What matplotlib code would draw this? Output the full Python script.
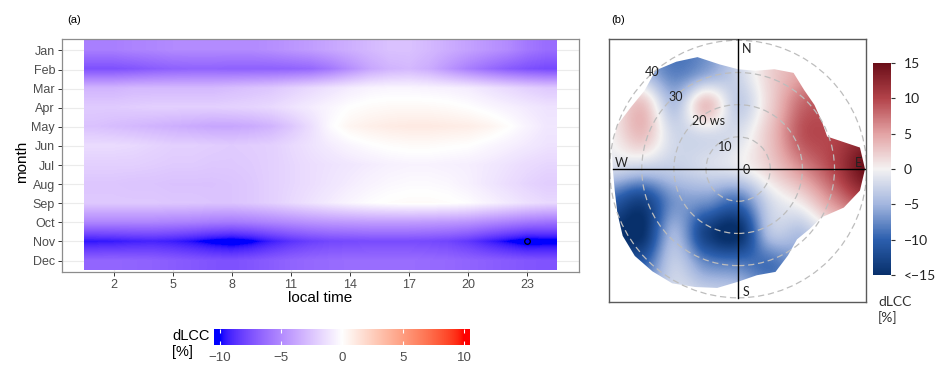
import numpy as np
import matplotlib
matplotlib.use("Agg")
import matplotlib.pyplot as plt
from matplotlib.colors import ListedColormap, LinearSegmentedColormap, Normalize
from matplotlib.patches import Polygon, Circle
from matplotlib.cm import ScalarMappable

# ---- data: panel (a), dLCC [%] by month x local hour ----
months = ["Jan", "Feb", "Mar", "Apr", "May", "Jun",
          "Jul", "Aug", "Sep", "Oct", "Nov", "Dec"]
hours = np.arange(1, 25)
hour_ticks = [2, 5, 8, 11, 14, 17, 20, 23]

dlcc_jan = [-5.5, -5.5, -5.3, -5.2, -5.0, -5.0, -5.0, -5.0, -5.0, -4.8, -4.5, -4.2,
            -3.8, -3.4, -3.0, -2.6, -2.6, -3.0, -3.5, -4.0, -4.5, -5.0, -5.8, -6.3]
dlcc_feb = [-7.5, -7.5, -7.3, -7.0, -6.8, -6.7, -6.7, -6.8, -6.8, -6.8, -6.7, -6.5,
            -5.8, -4.8, -3.8, -3.2, -3.0, -3.5, -4.5, -5.5, -6.3, -7.0, -7.5, -7.8]
dlcc_mar = [-3.2, -3.2, -3.0, -3.0, -3.0, -3.0, -3.0, -2.8, -2.6, -2.4, -2.0, -1.6,
            -1.2, -0.8, -0.5, -0.4, -0.4, -0.5, -0.6, -0.8, -1.2, -1.6, -2.0, -2.3]
dlcc_apr = [-2.2, -2.2, -2.1, -2.0, -2.0, -2.0, -2.0, -1.9, -1.8, -1.6, -1.2, -0.8,
            -0.4, 0.0, 0.2, 0.3, 0.3, 0.3, 0.2, 0.0, -0.3, -0.6, -0.9, -1.2]
dlcc_may = [-2.6, -2.8, -3.0, -3.2, -3.4, -3.6, -3.8, -3.8, -3.6, -3.2, -2.4, -1.4,
            -0.2, 0.5, 0.8, 1.0, 1.1, 1.1, 1.0, 0.9, 0.6, 0.1, -0.5, -1.0]
dlcc_jun = [-1.5, -1.5, -1.6, -1.8, -2.0, -2.0, -2.1, -2.2, -2.1, -2.0, -1.6, -1.2,
            -0.8, -0.4, -0.1, 0.1, 0.2, 0.2, 0.1, 0.0, -0.3, -0.6, -0.9, -1.2]
dlcc_jul = [-2.0, -2.0, -2.0, -2.1, -2.2, -2.2, -2.3, -2.3, -2.2, -2.0, -1.7, -1.4,
            -1.2, -1.0, -0.8, -0.6, -0.5, -0.5, -0.6, -0.7, -0.9, -1.2, -1.5, -1.7]
dlcc_aug = [-2.4, -2.4, -2.5, -2.5, -2.6, -2.6, -2.6, -2.5, -2.3, -2.0, -1.7, -1.4,
            -1.1, -0.8, -0.5, -0.3, -0.2, -0.2, -0.3, -0.6, -1.0, -1.4, -1.8, -2.1]
dlcc_sep = [-2.3, -2.3, -2.3, -2.3, -2.4, -2.4, -2.5, -2.5, -2.3, -2.0, -1.6, -1.2,
            -0.8, -0.4, -0.1, 0.1, 0.2, 0.2, 0.1, -0.1, -0.5, -0.9, -1.3, -1.6]
dlcc_oct = [-5.2, -5.2, -5.2, -5.2, -5.3, -5.4, -5.6, -5.7, -5.5, -5.2, -4.9, -4.6,
            -4.4, -4.3, -4.2, -4.2, -4.2, -4.3, -4.4, -4.6, -5.0, -5.4, -5.8, -6.0]
dlcc_nov = [-9.6, -9.5, -9.3, -9.2, -9.4, -9.8, -10.3, -10.6, -10.2, -9.4, -8.7, -8.2,
            -7.9, -7.8, -7.7, -7.7, -7.7, -7.8, -8.0, -8.5, -9.3, -10.0, -10.6, -10.4]
dlcc_dec = [-6.6, -6.6, -6.7, -6.8, -7.0, -7.2, -7.4, -7.5, -7.3, -7.0, -6.7, -6.5,
            -6.4, -6.3, -6.3, -6.3, -6.3, -6.4, -6.5, -6.7, -6.9, -7.1, -7.3, -7.4]

# marked cell (hour, month)
mark_hour = 23
mark_month = 11

# ---- data: panel (b), dLCC [%] on a u/v wind-speed grid (step 10) ----
grid_u = [-40, -30, -20, -10, 0, 10, 20, 30, 40]       # west -> east
grid_v = [40, 30, 20, 10, 0, -10, -20, -30, -40]       # north -> south
dlcc_v40 = [-6, -7, -9, -7, -3, 2, 5, 6, 6]
dlcc_v30 = [0, -4, -8, -6, -2.5, 2, 5, 8, 8]
dlcc_v20 = [0, 3, -4, 3, -3, 2, 8, 9, 9]
dlcc_v10 = [0, 3, -2, -2, -1.5, 3, 9, 10, 12]
dlcc_v0 = [-2, -3, -3, -2, -1, 2, 6, 10, 15]
dlcc_vm10 = [-10, -13, -7, -7, -9, -2, 1, 6, 10]
dlcc_vm20 = [-14, -15, -5, -13, -15, -4, -4, 0, 2]
dlcc_vm30 = [-10, -10, -3, -7, -8, -9, -6, -4, 0]
dlcc_vm40 = [-8, -6, -2, -2, -3, -6, -6, -4, 0]

# outer edge of the data (max wind speed per direction)
edge_deg = list(range(0, 360, 10))
edge_ws = [31, 31, 33, 34.5, 32, 31, 30, 29.5, 38.5, 39.5, 38.5, 35,
           30, 29, 28.5, 31, 34, 33.5, 35, 37.5, 39, 41, 41.5, 42,
           41.5, 40, 39, 39, 40, 40, 38.5, 38, 40, 38.5, 37, 33]

ring_ws = [10, 20, 30, 40]


# ---- colour maps ----
def srgb_to_lab(c):
    c = np.asarray(c, float)
    lin = np.where(c <= 0.04045, c / 12.92, ((c + 0.055) / 1.055) ** 2.4)
    M = np.array([[0.4124564, 0.3575761, 0.1804375],
                  [0.2126729, 0.7151522, 0.0721750],
                  [0.0193339, 0.1191920, 0.9503041]])
    xyz = M @ lin / np.array([0.95047, 1.0, 1.08883])
    d = 6 / 29
    f = np.where(xyz > d ** 3, np.cbrt(xyz), xyz / (3 * d * d) + 4 / 29)
    return np.array([116 * f[1] - 16, 500 * (f[0] - f[1]), 200 * (f[1] - f[2])])


def lab_to_srgb(lab):
    L, a, b = lab
    fy = (L + 16) / 116
    f = np.array([fy + a / 500, fy, fy - b / 200])
    d = 6 / 29
    t = np.where(f > d, f ** 3, 3 * d * d * (f - 4 / 29))
    xyz = t * np.array([0.95047, 1.0, 1.08883])
    Minv = np.array([[3.2404542, -1.5371385, -0.4985314],
                     [-0.9692660, 1.8760108, 0.0415560],
                     [0.0556434, -0.2040259, 1.0572252]])
    lin = np.clip(Minv @ xyz, 0, 1)
    s = np.where(lin <= 0.0031308, 12.92 * lin, 1.055 * lin ** (1 / 2.4) - 0.055)
    return np.clip(s, 0, 1)


lab_blue = srgb_to_lab([0, 0, 1])
lab_white = srgb_to_lab([1, 1, 1])
lab_red = srgb_to_lab([1, 0, 0])
cols = []
for v in np.linspace(-1, 1, 256):
    if v < 0:
        lab = lab_blue + (lab_white - lab_blue) * (v + 1)
    else:
        lab = lab_white + (lab_red - lab_white) * v
    cols.append(lab_to_srgb(lab))
cmap_a = ListedColormap(cols)
norm_a = Normalize(-10, 10)

cmap_b = LinearSegmentedColormap.from_list("dlcc_b", [
    (0.0, "#08306b"), (1 / 6, "#2c5fae"), (2 / 6, "#a3b6df"), (0.5, "#f4f2f2"),
    (4 / 6, "#e3a3a4"), (5 / 6, "#b3434a"), (1.0, "#6a0e18")])
norm_b = Normalize(-15, 15)

# ---- figure ----
fig = plt.figure(figsize=(9.4, 3.65), dpi=100)
W, H = 940, 365


def box(x0, y0, x1, y1):
    return [x0 / W, 1 - y1 / H, (x1 - x0) / W, (y1 - y0) / H]


font_a = "Liberation Sans"
font_b = "Lato"

# panel (a)
ax = fig.add_axes(box(62, 39, 579, 272))
grid = np.array([dlcc_jan, dlcc_feb, dlcc_mar, dlcc_apr, dlcc_may, dlcc_jun,
                 dlcc_jul, dlcc_aug, dlcc_sep, dlcc_oct, dlcc_nov, dlcc_dec])
ax.imshow(grid, cmap=cmap_a, norm=norm_a, aspect="auto",
          interpolation="bilinear", interpolation_stage="data",
          extent=(hours[0] - 0.5, hours[-1] + 0.5, len(months) + 0.5, 0.5), zorder=1)
ax.plot([mark_hour], [mark_month], "o", mfc="none", mec="black", ms=4, mew=0.9, zorder=3)
ax.set_xlim(-0.64, 25.64)
ax.set_ylim(12.6, 0.4)
ax.set_xticks(hour_ticks)
ax.set_yticks(np.arange(1, 13))
ax.set_yticklabels(months)
ax.grid(True, color="#ebebeb", lw=0.8)
ax.set_axisbelow(True)
for s in ax.spines.values():
    s.set_color("#8c8c8c")
    s.set_linewidth(0.9)
ax.tick_params(length=3, width=0.7, color="#333333", labelcolor="#4d4d4d",
               labelsize=9, pad=2)
for lab in ax.get_xticklabels() + ax.get_yticklabels():
    lab.set_family(font_a)
fig.text(320 / W, 1 - 298 / H, "local time", ha="center", va="center",
         fontsize=11, family=font_a)
fig.text(22 / W, 1 - 162 / H, "month", ha="center", va="center",
         rotation=90, fontsize=11, family=font_a)
fig.text(74 / W, 1 - 20 / H, "(a)", ha="center", va="center", fontsize=8, family=font_a)

# colour bar (a)
cax = fig.add_axes(box(214, 329, 470, 345))
bar = np.linspace(-10.5, 10.5, 400)[None, :]
cax.imshow(bar, cmap=cmap_a, norm=norm_a, aspect="auto",
           extent=(-10.5, 10.5, 0, 1))
cax.set_xlim(-10.5, 10.5)
cax.set_ylim(0, 1)
cax.set_yticks([])
cax.set_xticks([-10, -5, 0, 5, 10])
cax.set_xticklabels(["\u221210", "\u22125", "0", "5", "10"])
cax.tick_params(axis="x", direction="in", length=3, width=0.8, color="white",
                top=True, labelcolor="#4d4d4d", labelsize=9.5, pad=5)
for lab in cax.get_xticklabels():
    lab.set_family(font_a)
for s in cax.spines.values():
    s.set_visible(False)
fig.text(172 / W, 1 - 344 / H, "dLCC\n[%]", ha="left", va="center",
         fontsize=10.5, family=font_a, linespacing=1.15)

# panel (b)
bx = fig.add_axes(box(609, 39, 866, 302))
bx.set_xticks([])
bx.set_yticks([])
for s in bx.spines.values():
    s.set_color("#5a5a5a")
    s.set_linewidth(1.0)

uv = np.array([dlcc_v40, dlcc_v30, dlcc_v20, dlcc_v10, dlcc_v0,
               dlcc_vm10, dlcc_vm20, dlcc_vm30, dlcc_vm40], float)
step = grid_u[1] - grid_u[0]
img = bx.imshow(uv, cmap=cmap_b, norm=norm_b, origin="upper",
                interpolation="catrom", interpolation_stage="data",
                extent=(grid_u[0] - step / 2, grid_u[-1] + step / 2,
                        grid_v[-1] - step / 2, grid_v[0] + step / 2), zorder=1)
bx.set_aspect("auto")
bx.set_xlim(-40.2, 39.8)
bx.set_ylim(-41.3, 40.4)

eth = np.deg2rad(np.array(edge_deg, float))
ews = np.array(edge_ws, float)
edge = Polygon(np.column_stack([ews * np.sin(eth), ews * np.cos(eth)]),
               closed=True, transform=bx.transData)
img.set_clip_path(edge)

for r in ring_ws:
    bx.add_patch(Circle((0, 0), r, fill=False, ec="#bdbdbd", lw=0.9,
                        ls=(0, (5, 3)), zorder=2))
bx.plot([0, 0], [-40, 40.4], color="black", lw=1.0, zorder=3)
bx.plot([-39, 39.5], [0, 0], color="black", lw=1.0, zorder=3)

lab_kw = dict(fontsize=9, family=font_b, color="#222222", zorder=4)
bx.text(1.3, 37.3, "N", ha="left", va="center", **lab_kw)
bx.text(1.3, -38.3, "S", ha="left", va="center", **lab_kw)
bx.text(-38.5, 2.0, "W", ha="left", va="center", **lab_kw)
bx.text(38.5, 2.0, "E", ha="right", va="center", **lab_kw)
bx.text(1.3, -0.4, "0", ha="left", va="center", **lab_kw)
bx.text(-4.0, 6.9, "10", ha="center", va="center", **lab_kw)
bx.text(-9.3, 15.0, "20 ws", ha="center", va="center", **lab_kw)
bx.text(-19.3, 22.5, "30", ha="center", va="center", **lab_kw)
bx.text(-26.7, 30.2, "40", ha="center", va="center", **lab_kw)
fig.text(618 / W, 1 - 20 / H, "(b)", ha="center", va="center", fontsize=8, family=font_a)

# colour bar (b)
cbx = fig.add_axes(box(873, 63, 891, 275))
cb = fig.colorbar(ScalarMappable(norm=norm_b, cmap=cmap_b), cax=cbx,
                  ticks=[15, 10, 5, 0, -5, -10, -15])
cb.set_ticklabels(["15", "10", "5", "0", "\u22125", "\u221210", "<\u221215"])
cb.outline.set_visible(False)
cbx.tick_params(length=3, width=0.8, color="#333333", labelsize=10,
                labelcolor="#222222", pad=6)
for lab in cbx.get_yticklabels():
    lab.set_family(font_b)
fig.text(878 / W, 1 - 310 / H, "dLCC\n[%]", ha="left", va="center",
         fontsize=10, family=font_b, color="#333333", linespacing=1.3)

fig.savefig("out.png", dpi=100)
